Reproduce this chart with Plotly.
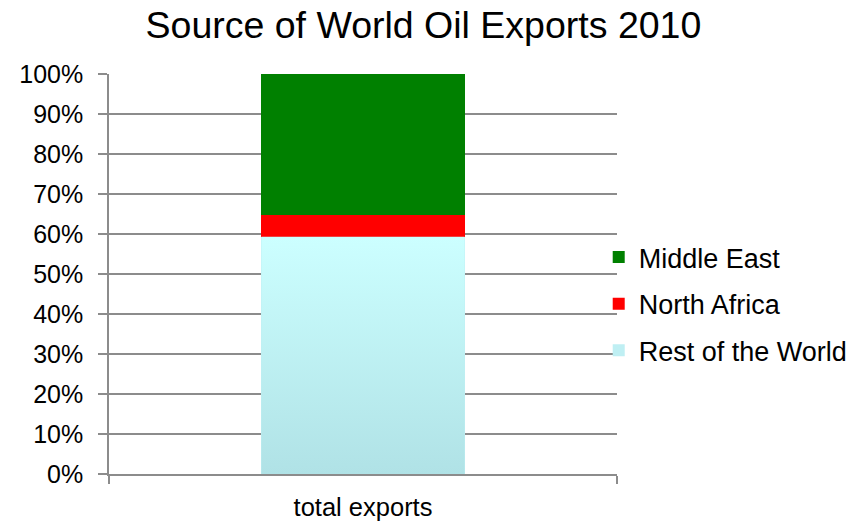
import plotly.graph_objects as go

# Share of world oil exports by source region, 2010 (%)
categories = ["total exports"]
rest_of_world = [59.3]
north_africa = [5.4]
middle_east = [35.3]

series_names = ["Rest of the World", "North Africa", "Middle East"]
series_colors = ["#BFEFF3", "#FF0000", "#008000"]
series_values = [rest_of_world, north_africa, middle_east]

y_ticks = [i / 10 for i in range(11)]
bar_width = 0.4
x_pos = list(range(len(categories)))

FONT = "Liberation Sans, Arial, sans-serif"
GRID = "#8C8C8C"

fig = go.Figure()

# stacked from the bottom up; legend lists the top segment first
n_series = len(series_names)
for i, (name, color, vals) in enumerate(zip(series_names, series_colors, series_values)):
    fig.add_trace(go.Bar(
        x=x_pos, y=[v / 100 for v in vals], name=name,
        width=bar_width, marker=dict(color=color, line=dict(width=0)),
        legendgroup=name, legendrank=n_series - i,
    ))

# vertical gradient over the base segment (Rest of the World)
for xc, v in zip(x_pos, rest_of_world):
    x0, x1 = xc - bar_width / 2, xc + bar_width / 2
    top = v / 100
    fig.add_trace(go.Scatter(
        x=[x0, x1, x1, x0, x0], y=[0, 0, top, top, 0],
        mode="none", fill="toself",
        fillgradient=dict(type="vertical",
                          colorscale=[[0, "#B0E2E6"], [1, "#CCFFFF"]]),
        showlegend=False, hoverinfo="skip",
    ))

fig.update_layout(
    width=852, height=522,
    barmode="stack",
    paper_bgcolor="white", plot_bgcolor="white",
    margin=dict(l=109, r=235, t=74, b=48, autoexpand=False),
    font=dict(family=FONT, size=25, color="black"),
    title=dict(text="Source of World Oil Exports 2010", x=0.497, xanchor="center",
               y=0.953, yanchor="middle", font=dict(size=37.5, family=FONT)),
    legend=dict(x=0.964, xanchor="left", y=0.425, yanchor="middle",
                traceorder="grouped", tracegroupgap=8.5,
                font=dict(size=27, family=FONT), bgcolor="rgba(0,0,0,0)"),
    showlegend=True,
)

fig.update_yaxes(
    range=[0, 1], tickvals=y_ticks, tickformat=".0%",
    showgrid=True, gridcolor=GRID, gridwidth=1.5,
    showline=True, linecolor=GRID, linewidth=1.5,
    ticks="outside", ticklen=9, tickcolor=GRID, tickwidth=1.5,
    ticklabelstandoff=10, zeroline=False, fixedrange=True, automargin=False,
)

fig.update_xaxes(
    range=[-0.5, len(categories) - 0.5],
    tickvals=[i - 0.5 for i in range(len(categories) + 1)],
    ticktext=[""] * (len(categories) + 1),
    ticks="outside", ticklen=8, tickcolor=GRID, tickwidth=1.5,
    showline=True, linecolor=GRID, linewidth=1.5,
    showgrid=False, zeroline=False, fixedrange=True, automargin=False,
)

# category labels on an overlaid axis so they sit at bar centres
fig.update_layout(xaxis2=dict(
    overlaying="x", side="bottom", anchor="y",
    range=[-0.5, len(categories) - 0.5],
    tickvals=x_pos, ticktext=categories, ticks="",
    showline=False, showgrid=False, zeroline=False, automargin=False,
    tickfont=dict(size=25.5, family=FONT), ticklabelstandoff=15,
))
fig.add_trace(go.Scatter(x=x_pos, y=[None] * len(x_pos), xaxis="x2",
                         showlegend=False, hoverinfo="skip"))

fig.write_html("out.html")
